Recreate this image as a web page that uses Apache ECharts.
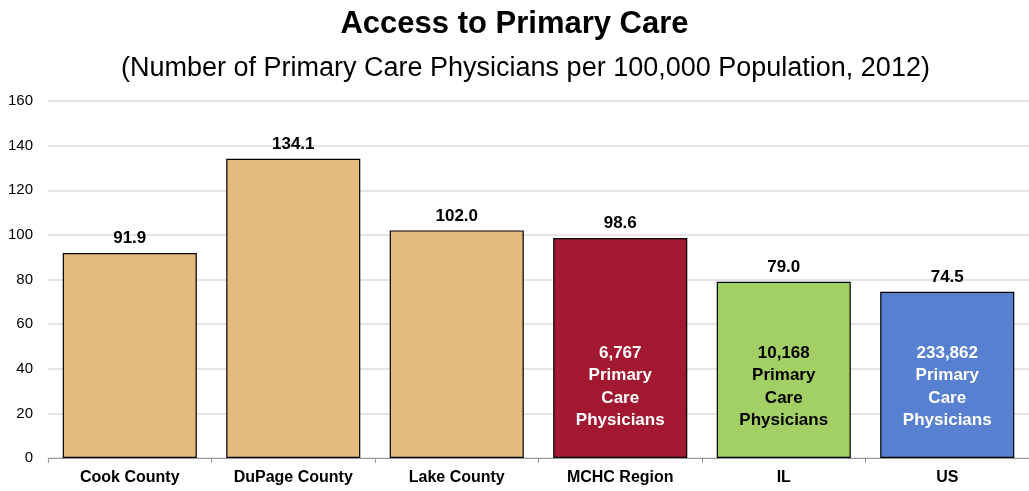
<!DOCTYPE html>
<html><head><meta charset="utf-8">
<script src="https://cdn.jsdelivr.net/npm/echarts@6/dist/echarts.min.js"></script>
<style>html,body{margin:0;padding:0;background:#fff}#c{width:1029px;height:491px}</style>
</head><body><div id="c"></div>
<script>
const categories = ['Cook County','DuPage County','Lake County','MCHC Region','IL','US'];
const values = [91.9, 134.1, 102.0, 98.6, 79.0, 74.5];
const physicians = [null, null, null, '6,767', '10,168', '233,862'];
const colors = ['#E4BB7F','#E4BB7F','#E4BB7F','#A11830','#A2D064','#5780D1'];
const innerTextColors = ['#fff','#fff','#fff','#fff','#000','#fff'];
const yTicks = [0,20,40,60,80,100,120,140,160];

const F = '"Liberation Sans Narrow","Arial Narrow","Liberation Sans",Arial,sans-serif';
const chart = echarts.init(document.getElementById('c'));
chart.setOption({
  animation:false,
  title:[
    {text:'Access to Primary Care',left:'center',top:4,textStyle:{fontFamily:'"Liberation Sans",Arial,sans-serif',fontSize:31,fontWeight:'bold',color:'#000'}},
    {text:'(Number of Primary Care Physicians per 100,000 Population, 2012)',left:116,top:50,textStyle:{fontFamily:'"Liberation Sans",Arial,sans-serif',fontSize:27,fontWeight:'normal',color:'#000'}}
  ],
  grid:{left:48,right:0,top:101,bottom:33,containLabel:false},
  xAxis:{type:'category',data:categories,
    axisLine:{lineStyle:{color:'#999'}},
    axisTick:{show:true,lineStyle:{color:'#999'},length:5},
    axisLabel:{fontFamily:F,fontWeight:'bold',fontSize:16,color:'#000',margin:12}},
  yAxis:{type:'value',min:yTicks[0],max:yTicks[yTicks.length-1],interval:20,
    axisLine:{show:false},axisTick:{show:false},
    splitLine:{lineStyle:{color:'#dcdcdc',width:1.5}},
    axisLabel:{fontFamily:F,fontSize:15,color:'#000',margin:15}},
  series:[
    {type:'bar',barCategoryGap:'18%',
     data:values.map((v,i)=>({value:v,itemStyle:{color:colors[i],borderColor:'#000',borderWidth:1.2}})),
     label:{show:true,position:'top',distance:6,fontFamily:F,fontWeight:'bold',fontSize:17,color:'#000',
       formatter:p=>p.value.toFixed(1)}},
    {type:'bar',barGap:'-100%',barCategoryGap:'18%',silent:true,
     data:values.map((v,i)=>({value:v,itemStyle:{color:'rgba(0,0,0,0)'},
       label:{show:physicians[i]!==null,color:innerTextColors[i]}})),
     label:{position:'insideBottom',distance:26,fontFamily:F,fontWeight:'bold',fontSize:17,lineHeight:22.5,align:'center',
       formatter:p=>physicians[p.dataIndex]?physicians[p.dataIndex]+'\nPrimary\nCare\nPhysicians':''}}
  ]
});
</script></body></html>
